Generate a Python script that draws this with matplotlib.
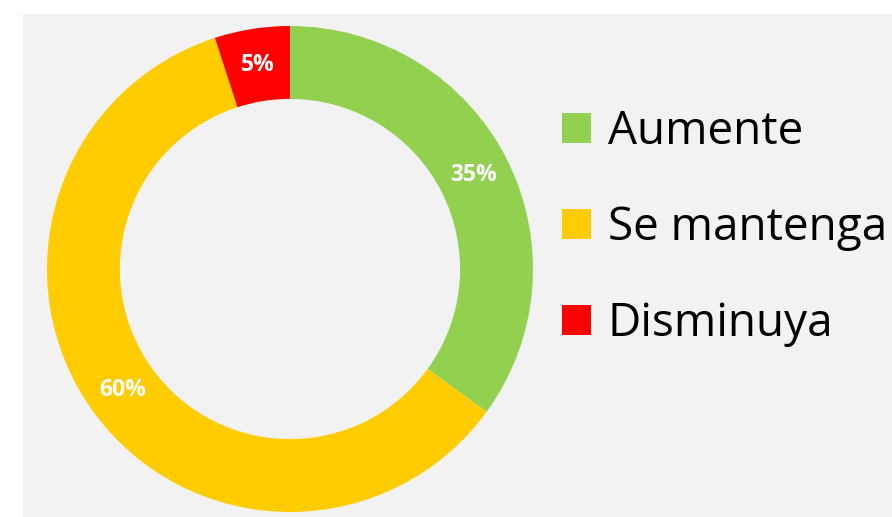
import matplotlib
matplotlib.use("Agg")
import matplotlib.pyplot as plt

# Data
labels = ["Aumente", "Se mantenga", "Disminuya"]
values = [35, 60, 5]
colors = ["#92d050", "#ffcc00", "#ff0000"]

plt.rcParams["font.family"] = ["Open Sans", "DejaVu Sans"]

fig = plt.figure(figsize=(8.92, 5.17), dpi=100, facecolor="white")

# grey chart area
bg = fig.add_axes([23 / 892, 0, 869 / 892, 503 / 517])
bg.set_facecolor("#f2f2f2")
bg.set_xticks([])
bg.set_yticks([])
for s in bg.spines.values():
    s.set_visible(False)

# donut
ax = fig.add_axes([47 / 892, 5 / 517, 486 / 892, 486 / 517])
ax.set_facecolor("none")
wedges, texts, autotexts = ax.pie(
    values,
    colors=colors,
    startangle=90,
    counterclock=False,
    radius=1,
    wedgeprops=dict(width=0.30, linewidth=0),
    autopct="%d%%",
    pctdistance=0.85,
    textprops=dict(color="white", fontsize=16.5, fontweight="bold"),
)
ax.set_xlim(-1, 1)
ax.set_ylim(-1, 1)
ax.set_aspect("equal")

# legend
leg = fig.legend(
    wedges,
    labels,
    loc="upper left",
    bbox_to_anchor=(562 / 892, 1 - 109 / 517),
    frameon=False,
    fontsize=33,
    handlelength=0.63,
    handleheight=0.63,
    handletextpad=0.37,
    labelspacing=1.09,
    borderpad=0,
    borderaxespad=0,
)

fig.savefig("out.png", dpi=100, facecolor=fig.get_facecolor())
